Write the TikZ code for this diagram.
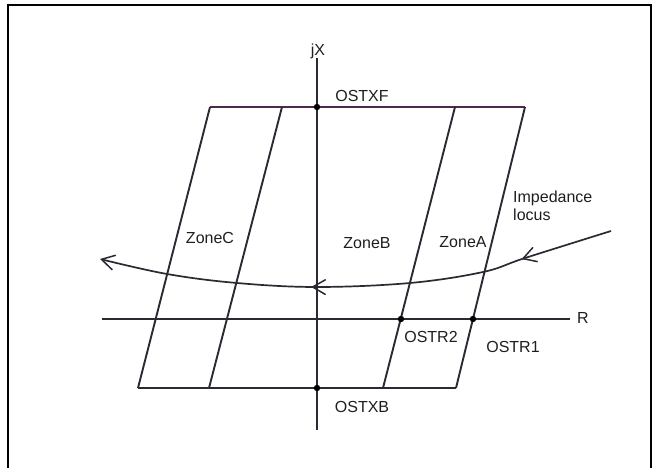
\documentclass[tikz,border=0pt]{standalone}
\usepackage{fontspec}
\setmainfont{Liberation Sans}
\usetikzlibrary{arrows.meta,decorations.markings}

\definecolor{lineclr}{RGB}{45,40,50}
\definecolor{edgeclr}{RGB}{80,40,75}
\definecolor{txtclr}{RGB}{30,30,30}

\tikzset{
  zoneline/.style={draw=lineclr, line width=1.9pt},
  axisline/.style={draw=lineclr, line width=1.6pt},
  lbl/.style={text=txtclr, font=\fontsize{16}{18}\selectfont, inner sep=1pt},
  barb/.tip={Straight Barb[length=13pt,width=15pt,line width=1.5pt]}
}

\begin{document}
\begin{tikzpicture}[x=1pt,y=-1pt]

        \useasboundingbox (0,0) rectangle (659,468);
        % -- outer frame (bottom edge runs off the page)
        \draw[line width=2pt] (8,470) -- (8,5) -- (651,5) -- (651,470);

        % ==================================================
        % Axes R and jX
        % ==================================================
        \coordinate (Rw) at (102,319);
        \coordinate (Re) at (570,319);
        \coordinate (Xn) at (317,58);
        \coordinate (Xs) at (317,430);
        \draw[axisline] (Rw) -- (Re);
        \draw[axisline] (Xn) -- (Xs);
        \node[lbl, anchor=west] (rlab) at (576,318) {R};
        \node[lbl, anchor=south] (xlab) at (318,60) {jX};

        % ==================================================
        % Zone boundaries (slanted parallelogram)
        % ==================================================
        \coordinate (TL)  at (210,107);
        \coordinate (TC)  at (282,107);
        \coordinate (TB)  at (455,107);
        \coordinate (TR)  at (525,107);
        \coordinate (BL)  at (138,388);
        \coordinate (BC)  at (209,388);
        \coordinate (BB)  at (383,388);
        \coordinate (BR)  at (456,388);
        %    top and bottom reach lines
        \draw[zoneline, draw=edgeclr] (TL) -- (TR);
        \draw[zoneline] (BL) -- (BR);
        %    resistive reach lines
        \draw[zoneline] (BL) -- (TL);
        \draw[zoneline] (BC) -- (TC);
        \draw[zoneline] (BB) -- (TB);
        \draw[zoneline] (BR) -- (TR);

        % -- zone names
        \node[lbl] (zc) at (210,238) {ZoneC};
        \node[lbl] (zb) at (367,243) {ZoneB};
        \node[lbl] (za) at (463,242) {ZoneA};

        % ==================================================
        % Impedance locus (right to left)
        % ==================================================
        \draw[axisline, line width=1.7pt,
          decoration={markings,
            mark=at position 0.18 with {\arrow{barb}},
            mark=at position 0.59 with {\arrow{barb}}},
          postaction={decorate}, -barb]
          plot[smooth, tension=0.6] coordinates
          {(611,231) (525,258) (483,272) (410,283) (317,287) (237,283) (167,274) (100,259)};
        \node[lbl, anchor=west, align=left] (locus) at (512,206) {Impedance\\locus};

        % ==================================================
        % Setting points & labels
        % ==================================================
        \coordinate (OSTXF) at (317,107);
        \coordinate (OSTXB) at (317,388);
        \coordinate (OSTR2) at (401,319);
        \coordinate (OSTR1) at (473,319);
        \fill[black] (OSTXF) circle (3.2pt);
        \node[lbl] (lxf) at (362,96) {OSTXF};
        \fill[black] (OSTXB) circle (3.2pt);
        \node[lbl] (lxb) at (362,407) {OSTXB};
        \fill[black] (OSTR2) circle (3.2pt);
        \node[lbl] (lr2) at (431,337) {OSTR2};
        \fill[black] (OSTR1) circle (3.2pt);
        \node[lbl] (lr1) at (513,347) {OSTR1};

\end{tikzpicture}
\end{document}
